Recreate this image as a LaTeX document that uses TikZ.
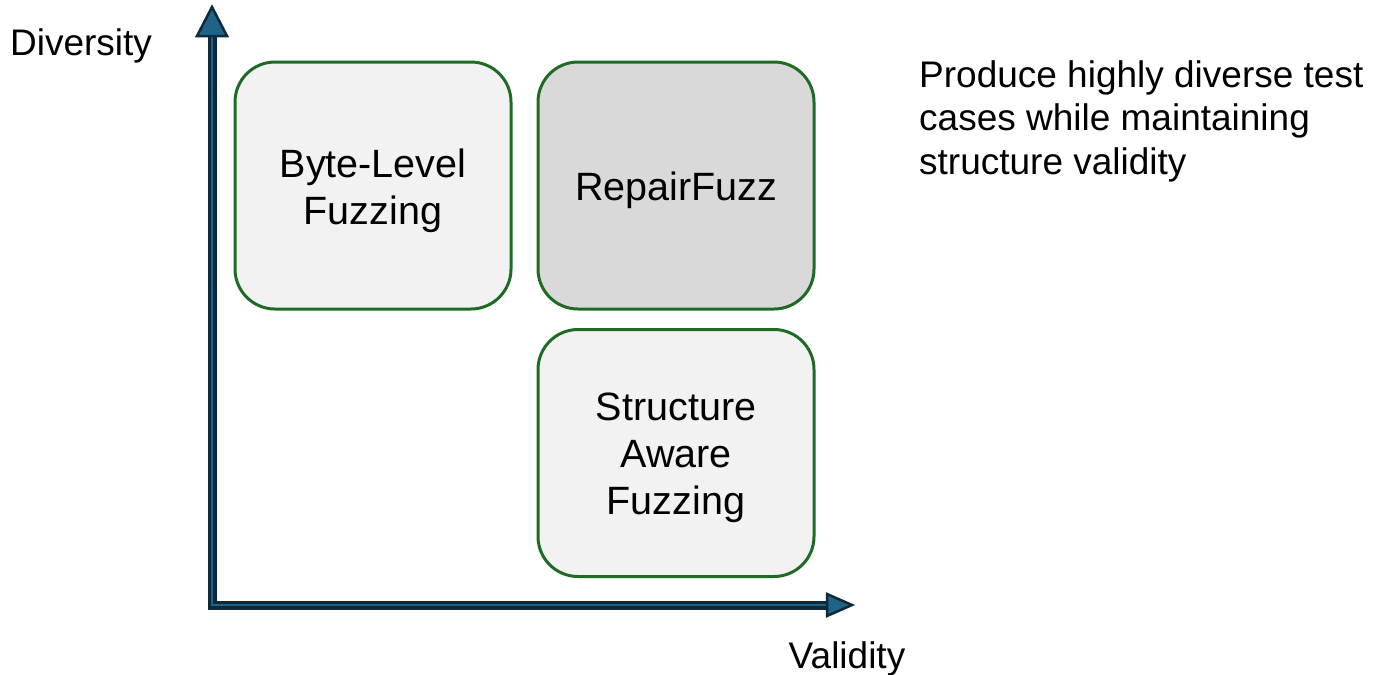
\documentclass[tikz,border=0pt]{standalone}
\usepackage{fontspec}
\setmainfont{Liberation Sans}
\definecolor{boxgreen}{HTML}{1F6B26}
\definecolor{lightfill}{HTML}{F2F2F2}
\definecolor{darkfill}{HTML}{D9D9D9}
\definecolor{axisdark}{HTML}{0D2A3A}
\definecolor{axisblue}{HTML}{1F6487}
\begin{document}
\begin{tikzpicture}[x=1pt,y=-1pt,
  quad/.style={draw=boxgreen, line width=3pt, rounded corners=40pt, fill=lightfill,
    minimum width=276pt, minimum height=247pt, inner sep=0pt},
  quadtext/.style={align=center, inner sep=0pt, font=\fontsize{39.5}{47}\selectfont},
  axisout/.style={draw=axisdark, line width=9pt, line join=miter},
  axisin/.style={draw=axisblue, line width=1.5pt, line join=miter},
  head/.style={fill=axisblue, draw=axisdark, line width=2.5pt, line join=miter},
  lbl/.style={inner sep=0pt, font=\fontsize{37}{43.5}\selectfont}]
\useasboundingbox (0,0) rectangle (1377,675);
% axes
\coordinate (O) at (212,605);
\coordinate (Ytip) at (212,7);
\coordinate (Xtip) at (852,605);
\coordinate (Ybase) at (212,36);
\coordinate (Xbase) at (827,605);
\draw[axisout] (Ybase) |- (Xbase);
\draw[axisin] (Ybase) |- (Xbase);
\filldraw[head] (Ytip) -- ([xshift=-15pt]Ybase) -- ([xshift=15pt]Ybase) -- cycle;
\filldraw[head] (Xtip) -- ([yshift=-11pt]Xbase) -- ([yshift=11pt]Xbase) -- cycle;
% boxes
\node[quad] (byte) at (373,185.5) {};
\node[quad, fill=darkfill] (repair) at (676,185.5) {};
\node[quad] (struct) at (676,453) {};
\node[quadtext] (bytetxt) at ([yshift=-5pt]byte.center) {Byte-Level\\Fuzzing};
\node[quadtext] (repairtxt) at ([yshift=-5pt]repair.center) {RepairFuzz};
\node[quadtext] (structtxt) at ([yshift=-5pt]struct.center) {Structure\\Aware\\Fuzzing};
% labels
\node[lbl] (div) at (81,46) {Diversity};
\node[lbl] (val) at (847,659) {Validity};
\node[lbl, anchor=north west, align=left] (goal) at (919,60)
  {Produce highly diverse test\\cases while maintaining\\structure validity};
\end{tikzpicture}
\end{document}
